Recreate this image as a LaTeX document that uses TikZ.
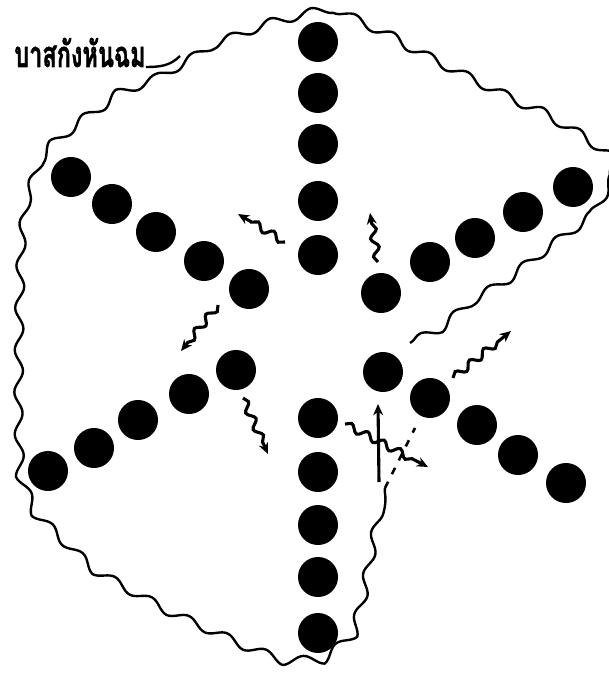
\documentclass[tikz,border=0pt]{standalone}
\usepackage{fontspec}
\newfontfamily\thaifont[Script=Thai, BoldFeatures={FakeBold=1.5}]{Loma}
\usepackage{tikz}
\usetikzlibrary{arrows.meta,decorations.pathmorphing,positioning}

\begin{document}
\begin{tikzpicture}[x=0.025cm, y=-0.025cm, >={Stealth[length=8pt,width=7pt]},
        cell/.style={circle, fill=black, inner sep=0pt, minimum size=1cm},
        membrane/.style={line width=1.7pt, line join=round, decorate, decoration={snake, amplitude=3pt, segment length=30pt}},
        wavy/.style={->, line width=2.2pt, decorate, decoration={snake, amplitude=2.6pt, segment length=13pt, post length=7pt}}]
        \useasboundingbox (0,0) rectangle (608,674);

        % Six chains of cells
        \foreach \n/\x/\y in {t1/318/42, t2/318/93, t3/318/144, t4/318/201, t5/318/255,
                b1/318/418, b2/318/472, b3/318/525, b4/318/577, b5/318/633}
            \node[cell] (\n) at (\x,\y) {};
        \foreach \n/\x/\y in {ul1/71/177, ul2/112/204, ul3/156/232, ul4/204/261, ul5/249/289,
                ll1/48/471, ll2/94/448, ll3/138/420, ll4/189/394, ll5/236/370}
            \node[cell] (\n) at (\x,\y) {};
        \foreach \n/\x/\y in {ur1/381/293, ur2/430/262, ur3/475/238, ur4/523/212, ur5/573/187,
                lr1/383/372, lr2/430/398, lr3/477/425, lr4/518/455, lr5/566/483}
            \node[cell] (\n) at (\x,\y) {};

        % Wall, broken on the right
        \coordinate (gapA) at (410,343);
        \coordinate (gapB) at (385,488);
        \coordinate (gapC) at (415,428);
        \coordinate (joint) at (180,56);
        \draw[membrane] (gapA) -- (431,333) -- (461,307) -- (494,287) -- (537,253) -- (581,220)
            -- (602,182) -- (598,155) -- (571,137) -- (537,117) -- (504,103) -- (471,87) -- (437,70)
            -- (404,53) -- (371,33) -- (337,17) -- (317,7) -- (300,10) -- (260,20) -- (233,30)
            -- (200,43) -- (joint) -- (150,73) -- (117,86) -- (100,100) -- (70,120) -- (45,140)
            -- (30,160) -- (20,190) -- (15,233) -- (13,300) -- (12,400) -- (14,470) -- (30,510)
            -- (100,577) -- (167,614) -- (233,644) -- (290,666) -- (320,665) -- (354,637)
            -- (364,597) -- (374,544) -- (gapB);
        \draw[line width=1.8pt, dash pattern=on 5pt off 6pt] (gapB) -- (gapC);

        % Label
        \node[anchor=base west, inner sep=0pt, font=\thaifont\bfseries\fontsize{19}{22}\selectfont] (lbl) at (14,67) {\scalebox{0.88}[1.35]{บาสกังหันฉม}};
        \draw[line width=1.7pt] (lbl.base east) to[out=0, in=225] (joint);

        % Movement of the cells
        \coordinate (s1) at (285,242); \coordinate (e1) at (238,214);
        \coordinate (s2) at (378,262); \coordinate (e2) at (370,213);
        \coordinate (s3) at (218,305); \coordinate (e3) at (181,351);
        \coordinate (s4) at (243,398); \coordinate (e4) at (268,454);
        \coordinate (s5) at (345,424); \coordinate (e5) at (428,467);
        \coordinate (s6) at (453,378); \coordinate (e6) at (511,331);
        \coordinate (s7) at (379,482); \coordinate (e7) at (378,404);
        \draw[wavy] (s1) -- (e1);
        \draw[wavy] (s2) -- (e2);
        \draw[wavy] (s3) -- (e3);
        \draw[wavy] (s4) -- (e4);
        \draw[wavy] (s5) -- (e5);
        \draw[wavy] (s6) -- (e6);
        \draw[->, line width=2.2pt] (s7) -- (e7);
    \end{tikzpicture}
\end{document}
